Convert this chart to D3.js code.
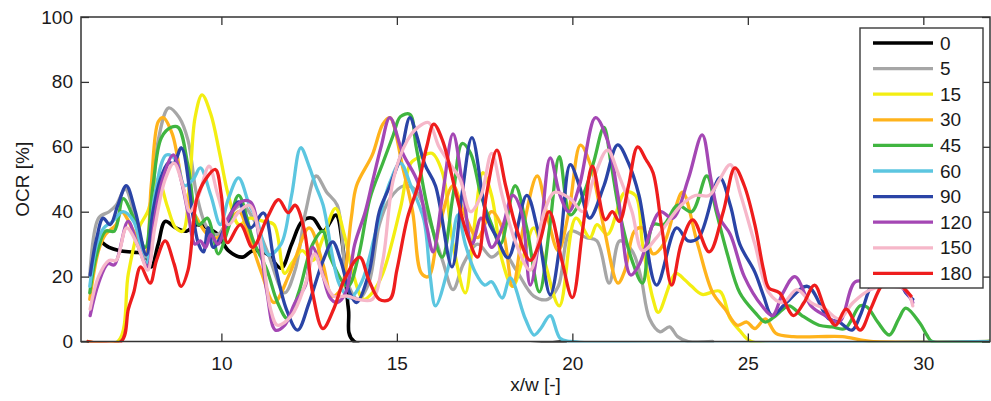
<!DOCTYPE html>
<html>
<head>
<meta charset="utf-8">
<script src="https://cdn.jsdelivr.net/npm/d3@7"></script>
<style>
  html, body { margin: 0; padding: 0; background: #fff; }
  svg { display: block; font-family: "Liberation Sans", Arial, Helvetica, sans-serif; }
</style>
</head>
<body>
<svg id="chart" width="991" height="401"></svg>
<script>
// ---------------- data ----------------
const categories = ["0", "5", "15", "30", "45", "60", "90", "120", "150", "180"];
const xTicks = [10, 15, 20, 25, 30];
const yTicks = [0, 20, 40, 60, 80, 100];
const xLabel = "x/w [-]";
const yLabel = "OCR [%]";

// each series: [x/w, OCR %]
const s0 = [[6.55,31],[6.8,29],[7.1,28],[7.5,27.5],[7.8,27],[8.0,23],[8.2,30],[8.4,37],[8.7,35],[9.0,34],[9.3,36],[9.6,35],[9.9,33],[10.2,28],[10.6,26],[10.9,28],[11.3,27],[11.7,22.6],[12.0,30],[12.3,37],[12.6,38],[12.9,34],[13.26,39],[13.45,30],[13.62,10],[13.78,0],[19.8,0]];
const s5 = [[6.25,20],[6.5,38],[6.8,40],[7.0,42],[7.26,47],[7.5,40],[7.85,26],[8.2,62],[8.5,72],[8.8,69],[9.05,62],[9.3,45],[9.6,35],[9.9,33],[10.3,40],[10.6,42],[10.9,38],[11.3,28],[11.8,15],[12.1,22],[12.4,40],[12.7,51],[13.0,46],[13.3,42],[13.6,18],[13.9,13],[14.2,18],[14.5,36],[14.8,44],[15.2,48],[15.5,47],[15.9,38],[16.3,25],[16.6,16],[16.9,24],[17.3,30],[17.7,26],[18.0,28],[18.4,22],[18.9,14],[19.3,13],[19.6,17],[19.95,34],[20.4,32],[20.7,31],[21.05,18],[21.35,31],[21.7,28],[21.95,20],[22.2,7],[22.5,3],[22.77,4.5],[23.0,1.5],[23.3,0],[24,0]];
const s15 = [[6.2,0],[7.05,0],[7.35,21],[7.65,35],[7.9,40],[8.2,50],[8.45,42],[8.7,35],[8.9,34],[9.1,50],[9.25,69],[9.45,76],[9.7,70],[9.95,58],[10.2,45],[10.5,36],[10.8,38],[11.2,37],[11.5,36],[11.8,21],[12.0,24],[12.3,28],[12.6,25],[12.9,32],[13.25,41],[13.5,33],[13.75,21],[14.05,13],[14.3,15],[14.6,21],[15.1,41],[15.4,55],[15.7,57],[16.0,58],[16.3,52],[16.6,30],[16.95,15],[17.2,35],[17.45,52],[17.7,45],[18.0,25],[18.3,17],[18.6,26],[18.9,35],[19.2,25],[19.63,11],[20.1,38],[20.5,32],[20.7,36],[21.0,33],[21.5,46],[21.8,45],[22.0,30],[22.3,13],[22.45,9],[22.95,21],[23.2,19],[23.4,17],[23.7,14.5],[24.2,15.5],[24.5,7],[24.8,3],[25.1,0],[31.9,0]];
const s30 = [[6.25,13],[6.5,28],[6.7,33],[7.0,36],[7.15,40],[7.5,34],[7.83,27],[8.0,48],[8.2,67.7],[8.34,69],[8.6,64],[8.97,45],[9.3,38],[9.6,33],[9.9,32],[10.2,36],[10.5,40],[10.8,32],[11.15,21],[11.5,12],[11.95,21],[12.5,35],[12.9,23.6],[13.15,14],[13.4,16],[13.7,38],[13.85,48],[14.3,57.5],[14.6,67],[14.8,69],[15.17,53.5],[15.45,40],[15.7,21],[15.9,20],[16.2,35],[16.6,48],[16.9,40],[17.3,32],[17.7,40],[18.0,35],[18.3,17],[18.6,35],[19.0,51],[19.3,38],[19.6,28],[19.9,40],[20.23,60.5],[20.5,55],[20.9,35],[21.3,18],[21.5,22],[21.77,34],[22.0,35],[22.3,27],[22.6,30],[22.9,40],[23.14,46],[23.57,30],[24.0,15],[24.35,10],[24.7,5],[24.97,6],[25.2,4],[25.5,7],[25.8,2.5],[26.3,1.5],[27.0,1.5],[27.7,1.5],[28.2,0.5],[28.5,0],[31.9,0]];
const s45 = [[6.25,15],[6.45,27],[6.7,34],[6.95,34],[7.2,44],[7.5,38],[7.83,29],[8.05,48],[8.29,62.8],[8.57,66],[8.77,66],[9.06,53.5],[9.35,36],[9.6,38],[9.74,34],[9.91,27],[10.2,35],[10.49,45],[10.91,31],[11.3,22],[11.6,12],[11.89,7],[12.2,15],[12.6,30],[12.89,34],[13.1,26],[13.6,17],[13.9,26],[14.23,44],[14.6,55],[14.9,63.7],[15.1,69.3],[15.37,70],[15.55,60],[15.9,40],[16.29,26],[16.6,45],[16.86,61],[17.1,58],[17.4,45],[17.7,36],[17.95,30],[18.37,48],[18.7,35],[19.06,15.3],[19.35,35],[19.63,57],[19.94,39],[20.3,45],[20.6,55],[20.9,66],[21.1,55],[21.34,40],[21.7,25],[22.0,18],[22.3,36],[22.6,36],[23.0,42],[23.4,40],[23.83,51],[24.1,40],[24.4,27.6],[24.77,15],[25.2,9],[25.5,6],[25.8,8],[26.17,11],[26.54,8],[27.03,5],[27.4,4.5],[27.77,4],[28.2,11],[28.4,10.6],[28.7,6],[29.03,2],[29.3,7],[29.5,10.3],[29.9,5.7],[30.1,2],[30.25,0],[31.9,0]];
const s60 = [[6.25,17],[6.45,30],[6.65,35],[6.9,37],[7.2,40],[7.5,37],[7.85,24],[8.1,45],[8.43,57.5],[8.7,56],[8.95,48],[9.2,50],[9.4,53.5],[9.7,45],[9.97,36],[10.2,44],[10.49,50.4],[10.8,42],[11.0,38],[11.34,26.7],[11.7,30],[12.0,45],[12.26,59.7],[12.5,54],[12.69,48],[12.9,42],[13.17,26],[13.37,17.4],[13.66,13.4],[14.0,18.4],[14.4,33.8],[14.8,49],[15.1,55],[15.4,48],[15.77,37.5],[15.95,20],[16.1,11],[16.46,22.7],[16.74,39],[16.95,30],[17.23,21.4],[17.5,17.4],[17.7,18.4],[18.0,13.4],[18.23,19.6],[18.66,7],[18.91,2],[19.1,4],[19.37,8],[19.65,1],[19.94,0],[31.9,0]];
const s90 = [[6.26,20.5],[6.45,32],[6.63,38],[6.83,36],[7.05,42],[7.29,48],[7.55,40],[7.86,26.7],[8.05,40],[8.26,50],[8.49,55],[8.65,55],[8.86,59.7],[9.2,38],[9.35,30],[9.49,27.6],[9.62,35],[9.77,29],[10.1,35],[10.49,43],[10.83,35],[11.2,39.6],[11.5,25],[11.85,10],[12.17,3.5],[12.5,12],[12.9,25],[13.17,30.7],[13.4,25],[13.66,15],[13.85,12],[14.2,21],[14.5,40],[14.8,48],[15.09,56.6],[15.37,69],[15.55,64],[15.8,54.5],[16.1,48],[16.57,23],[16.85,45],[17.14,62.8],[17.57,38],[17.85,32],[18.17,25.8],[18.7,45],[19.0,35],[19.37,14.4],[19.65,30],[19.94,54.5],[20.2,48],[20.49,38],[20.9,48],[21.29,60.6],[21.6,55],[21.9,45],[22.4,17.4],[22.97,35],[23.3,31],[23.6,32],[24.2,50.4],[24.5,42],[24.77,30],[25.2,21.4],[25.45,14],[25.69,8],[26.1,12],[26.7,17],[27.3,7],[27.6,6],[27.97,3.5],[28.2,8],[28.5,17],[28.8,22],[29.2,22],[29.5,15],[29.7,13]];
const s120 = [[6.26,8],[6.5,18],[6.77,24],[6.95,23.6],[7.34,37],[7.6,30],[7.9,23],[8.1,38],[8.3,49],[8.63,57.5],[8.85,50],[9.06,39],[9.25,30],[9.4,31],[9.55,29],[9.7,33],[9.9,30],[10.2,38],[10.54,43],[10.83,43],[11.1,30],[11.3,15],[11.54,3.5],[11.8,5],[12.1,12],[12.4,17.4],[12.6,29],[12.85,22],[13.1,13.4],[13.3,12],[13.54,15],[13.8,30],[14.1,40],[14.3,49],[14.55,60],[14.8,69],[15.17,58],[15.6,49],[15.86,35],[16.03,27.6],[16.3,45],[16.6,64],[16.85,50],[17.14,30],[17.4,38],[17.7,29],[18.0,35],[18.3,45],[18.55,40],[18.8,17.4],[19.1,35],[19.37,56.6],[19.65,45],[19.9,40],[20.2,48],[20.66,69],[21.0,62],[21.3,45],[21.66,20.5],[21.9,23.6],[22.5,40],[22.86,38],[23.3,50],[23.7,63.7],[23.95,50],[24.2,38],[24.5,33],[24.9,20],[25.4,11],[25.7,8],[26.0,15],[26.34,20],[26.8,11],[27.2,8],[27.6,6],[28.06,18.4],[28.5,18],[29.0,17.5],[29.4,16.5],[29.7,12]];
const s150 = [[6.26,10],[6.5,20],[6.8,25],[7.0,25],[7.3,35],[7.6,30],[7.9,22],[8.1,35],[8.4,50],[8.65,55],[8.9,48],[9.1,40],[9.35,45],[9.65,54],[9.9,45],[10.2,36],[10.5,40],[10.8,42],[11.1,32],[11.4,10],[11.6,5],[12.0,8],[12.4,18],[12.65,27],[12.9,20],[13.2,14],[13.6,14],[13.9,13],[14.3,13],[14.6,25],[14.9,50],[15.3,62],[15.6,66],[15.9,67.5],[16.2,60],[16.5,55],[16.8,50],[17.1,40],[17.4,45],[17.7,58],[18.0,45],[18.4,30],[18.8,22],[19.2,40],[19.5,46],[19.94,44],[20.3,40],[20.6,50],[21.0,59],[21.3,52],[21.7,40],[22.0,28],[22.4,32],[22.8,38],[23.1,42],[23.5,45],[23.9,45],[24.2,50],[24.5,54.5],[24.8,45],[25.2,30],[25.6,15],[26.0,12],[26.4,16],[26.8,12],[27.2,10],[27.6,7],[28.0,12],[28.5,16],[29.0,17],[29.5,16],[29.7,11]];
const s180 = [[6.2,0],[7.14,0],[7.35,10],[7.5,15],[7.7,23],[7.97,18],[8.15,25],[8.4,31],[8.65,24],[8.85,17],[9.05,22],[9.3,44],[9.55,50],[9.83,53],[10.0,45],[10.17,30.5],[10.54,36],[10.89,29],[11.3,38],[11.63,43.7],[11.9,39.7],[12.1,42],[12.35,35],[12.6,15],[12.89,4],[13.2,10],[13.5,19],[13.94,26],[14.2,19],[14.5,13],[14.8,13],[15.0,22],[15.3,38],[15.6,48],[15.85,60],[16.05,67],[16.3,62],[16.7,45],[17.0,33],[17.3,26],[17.55,45],[17.85,59],[18.1,48],[18.4,35],[18.8,25],[19.05,30],[19.34,40],[19.7,25],[20.0,13.5],[20.3,35],[20.57,54],[20.94,37.5],[21.14,40],[21.34,37],[21.6,48],[21.86,60],[22.1,56],[22.3,52],[22.55,35],[22.83,17.4],[23.1,30],[23.43,37.5],[23.9,27.6],[24.3,40],[24.63,53.5],[24.9,48],[25.2,36],[25.45,22],[25.6,16.5],[25.9,15],[26.3,8],[26.6,12],[26.9,17.4],[27.2,10],[27.5,5],[27.8,10],[28.2,3.5],[28.5,10],[28.8,17],[29.1,20],[29.4,17],[29.65,14]];
const seriesValues = [s0, s5, s15, s30, s45, s60, s90, s120, s150, s180];

// ---------------- style ----------------
const colors = ["#000000", "#a6a6a6", "#f3ee12", "#ffb31c", "#40b540", "#5cc6e0", "#2a44a6", "#a447b4", "#f6b7c9", "#ee1d1d"];
const M = { left: 81, right: 990, top: 17, bottom: 341.5 };
const xMin = 6, xMax = 31.9;

const svg = d3.select("#chart");
const x = d3.scaleLinear().domain([xMin, xMax]).range([M.left, M.right]);
const y = d3.scaleLinear().domain([0, 100]).range([M.bottom, M.top]);

svg.append("defs").append("clipPath").attr("id", "clip")
  .append("rect").attr("x", M.left).attr("y", M.top - 2)
  .attr("width", M.right - M.left).attr("height", M.bottom - M.top + 3);

// lines
const line = d3.line().x(d => x(d[0])).y(d => y(d[1])).curve(d3.curveCatmullRom.alpha(0.5));
const gLines = svg.append("g").attr("clip-path", "url(#clip)");
seriesValues.forEach((s, i) => {
  gLines.append("path").datum(s)
    .attr("d", line)
    .attr("fill", "none")
    .attr("stroke", colors[i])
    .attr("stroke-width", i === 0 ? 3.6 : 3.3)
    .attr("stroke-linejoin", "round")
    .attr("stroke-linecap", "round");
});

// axes (ticks inward on all sides)
const tickLen = 8;
const fs = 19;
const axisColor = "#333";
const ax = svg.append("g");
const bottomAxis = d3.axisBottom(x).tickValues(xTicks).tickSize(-tickLen).tickPadding(tickLen + 7).tickSizeOuter(0);
const topAxis = d3.axisTop(x).tickValues(xTicks).tickSize(-tickLen).tickFormat("").tickSizeOuter(0);
const leftAxis = d3.axisLeft(y).tickValues(yTicks).tickSize(-tickLen).tickPadding(tickLen).tickSizeOuter(0);
const rightAxis = d3.axisRight(y).tickValues(yTicks).tickSize(-tickLen).tickFormat("").tickSizeOuter(0);

function styleAxis(g) {
  g.select(".domain").remove();
  g.selectAll(".tick line").attr("stroke", axisColor).attr("stroke-width", 1.3);
  g.selectAll(".tick text").attr("fill", "#1a1a1a").attr("font-size", fs)
    .attr("font-family", "'Liberation Sans', Arial, sans-serif");
}
ax.append("g").attr("transform", `translate(0,${M.bottom})`).call(bottomAxis).call(styleAxis);
ax.append("g").attr("transform", `translate(0,${M.top})`).call(topAxis).call(styleAxis);
ax.append("g").attr("transform", `translate(${M.left},0)`).call(leftAxis).call(styleAxis);
ax.append("g").attr("transform", `translate(${M.right},0)`).call(rightAxis).call(styleAxis);

// frame
svg.append("rect").attr("x", M.left).attr("y", M.top)
  .attr("width", M.right - M.left).attr("height", M.bottom - M.top)
  .attr("fill", "none").attr("stroke", axisColor).attr("stroke-width", 1.5);

// axis titles
svg.append("text").attr("x", (M.left + M.right) / 2).attr("y", 391)
  .attr("text-anchor", "middle").attr("font-size", fs).attr("fill", "#1a1a1a")
  .text(xLabel);
svg.append("text").attr("transform", `translate(29,${(M.top + M.bottom) / 2}) rotate(-90)`)
  .attr("text-anchor", "middle").attr("font-size", fs).attr("fill", "#1a1a1a")
  .text(yLabel);

// legend
const lg = { x0: 860, y0: 28, x1: 983, y1: 288, rowY: 43, rowH: 25.6 };
const legend = svg.append("g");
legend.append("rect").attr("x", lg.x0).attr("y", lg.y0)
  .attr("width", lg.x1 - lg.x0).attr("height", lg.y1 - lg.y0)
  .attr("fill", "#fff").attr("stroke", "#3a3a3a").attr("stroke-width", 1.4);
categories.forEach((c, i) => {
  const yy = lg.rowY + i * lg.rowH;
  legend.append("line").attr("x1", 873).attr("x2", 933).attr("y1", yy).attr("y2", yy)
    .attr("stroke", colors[i]).attr("stroke-width", i === 0 ? 3.6 : 3.3);
  legend.append("text").attr("x", 940).attr("y", yy).attr("dy", "0.35em")
    .attr("font-size", fs).attr("fill", "#1a1a1a").text(c);
});
</script>
</body>
</html>
